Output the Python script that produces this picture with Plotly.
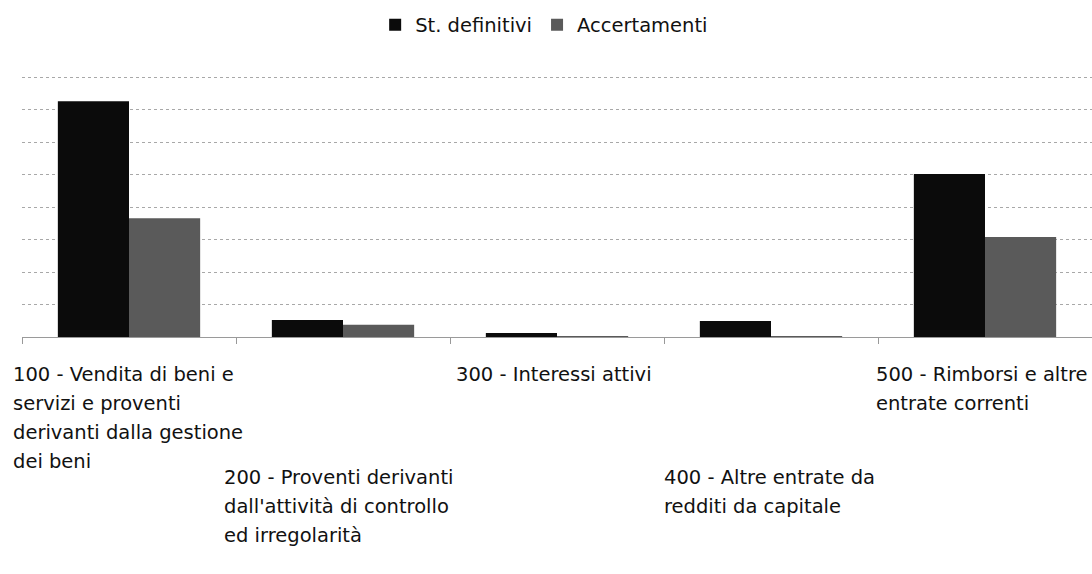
import plotly.graph_objects as go

categories = ["100", "200", "300", "400", "500"]
st_definitivi = [7.26, 0.52, 0.12, 0.49, 5.02]
accertamenti = [3.66, 0.38, 0.03, 0.02, 3.08]
series_names = ["St. definitivi", "Accertamenti"]
label_lines = [
    ["100 - Vendita di beni e", "servizi e proventi", "derivanti dalla gestione", "dei beni"],
    ["200 - Proventi derivanti", "dall'attività di controllo", "ed irregolarità"],
    ["300 - Interessi attivi"],
    ["400 - Altre entrate da", "redditi da capitale"],
    ["500 - Rimborsi e altre", "entrate correnti"],
]
# label placement (pixel x of left edge, row index)
label_x_px = [11, 222, 454, 662, 874]
label_row = [0, 1, 0, 1, 0]

W, H = 1092, 574
L, R, T, B = 22, 0, 74, 237
FONT = "DejaVu Sans, Verdana, sans-serif"
FS = 19.5

fig = go.Figure()
fig.add_trace(go.Bar(x=categories, y=st_definitivi, name=series_names[0],
                     marker=dict(color="#0b0b0b", line=dict(width=0))))
fig.add_trace(go.Bar(x=categories, y=accertamenti, name=series_names[1],
                     marker=dict(color="#5a5a5a", line=dict(width=0))))

plot_w = W - L - R
plot_h = H - T - B
annotations = []
first_line_y = 374
line_h = 29
row_off = 103
for i, lines in enumerate(label_lines):
    for j, txt in enumerate(lines):
        ypx = first_line_y + label_row[i] * row_off + j * line_h
        annotations.append(dict(
            text=txt, xref="paper", yref="paper",
            x=(label_x_px[i] - L) / plot_w,
            y=1 - (ypx - T) / plot_h,
            xanchor="left", yanchor="middle", showarrow=False,
            font=dict(family=FONT, size=FS, color="#111111")))

fig.update_layout(
    width=W, height=H,
    margin=dict(l=L, r=R, t=T, b=B, autoexpand=False),
    paper_bgcolor="white", plot_bgcolor="white",
    barmode="group", bargap=0.335, bargroupgap=0,
    showlegend=True,
    legend=dict(orientation="h", x=0.488, xanchor="center",
                y=1 - (25 - T) / plot_h, yanchor="middle",
                font=dict(family=FONT, size=FS, color="#111111"),
                itemwidth=30, tracegroupgap=0),
    annotations=annotations,
    xaxis=dict(showticklabels=False, ticks="outside", tickson="boundaries",
               ticklen=6, tickcolor="#999999", showgrid=False, showline=False,
               zeroline=False),
    yaxis=dict(range=[0, 8.1], dtick=1, showticklabels=False, showgrid=True,
               gridcolor="#a8a8a8", griddash="dot", gridwidth=1,
               zeroline=True, zerolinecolor="#9a9a9a", zerolinewidth=1,
               showline=False, ticks=""),
)

fig.write_html("out.html", config={"displayModeBar": False},
               post_script="document.body.style.margin='0';document.body.style.overflow='hidden';")
